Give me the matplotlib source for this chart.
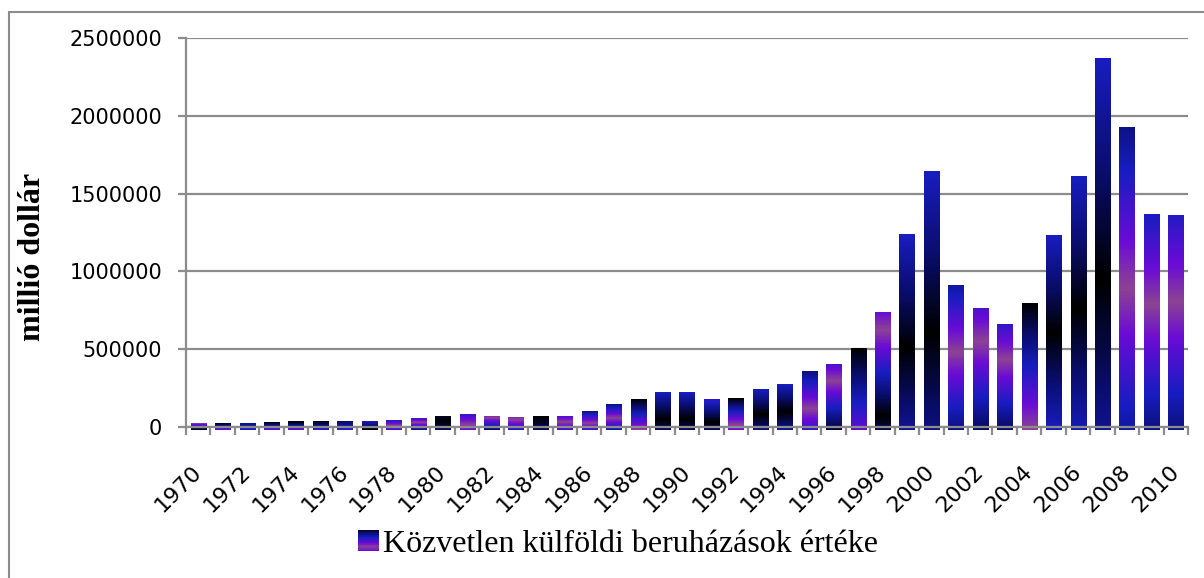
import numpy as np
import matplotlib
matplotlib.use("Agg")
import matplotlib.pyplot as plt
from matplotlib.colors import LinearSegmentedColormap
from matplotlib.patches import Rectangle
from matplotlib.legend_handler import HandlerBase

years = list(range(1970, 2011))
fdi = [24000, 24000, 24000, 30000, 37000, 37000, 37000, 37000, 43000, 56000,
       69000, 82000, 69000, 62000, 69000, 69000, 101000, 148000, 174000, 219000,
       225000, 180000, 186000, 244000, 276000, 354000, 405000, 502000, 739000, 1235000,
       1640000, 907000, 759000, 662000, 797000, 1228000, 1607000, 2366000, 1923000, 1363000,
       1357000]
series_name = "Közvetlen külföldi beruházások értéke"
y_label = "millió dollár"
y_ticks = [0, 500000, 1000000, 1500000, 2000000, 2500000]

# gradient phase of each bar, (top, bottom): 0 black, .25 blue, .5 mauve, .75 blue, 1 black
shade = [(0.5, 1.0), (0.0, 0.4), (0.15, 0.28), (0.0, 0.4), (0.95, 1.4),
         (0.0, 0.3), (0.1, 0.3), (0.75, 1.0), (0.25, 0.7), (0.3, 0.85),
         (0.95, 1.1), (0.3, 0.6), (0.45, 0.9), (0.45, 0.75), (1.0, 1.1),
         (0.35, 0.7), (0.15, 0.7), (0.15, 0.8), (0.0, 0.5), (0.75, 1.1),
         (0.75, 1.1), (0.7, 1.1), (0.0, 0.6), (0.75, 1.15), (0.75, 1.17),
         (0.15, 0.7), (0.35, 0.95), (0.0, 0.38), (0.4, 1.08), (0.75, 1.18),
         (0.75, 1.15), (0.2, 0.85), (0.35, 0.9), (0.3, 0.9), (0.0, 0.5),
         (0.75, 1.25), (0.75, 1.23), (0.75, 1.17), (0.16, 0.8), (0.25, 0.85),
         (0.27, 0.85)]

cyc = LinearSegmentedColormap.from_list("cyc", [
    (0.0, "#000000"), (0.125, "#0a0d70"), (0.25, "#181dc0"), (0.4, "#6a0bd6"),
    (0.5, "#8c4493"), (0.6, "#6a0bd6"), (0.75, "#181dc0"), (0.875, "#0a0d70"),
    (1.0, "#000000")])


def grad(top, bottom, n=150):
    ph = np.linspace(top, bottom, n) % 1.0
    return cyc(ph)[:, None, :3]


class GradHandler(HandlerBase):
    def create_artists(self, legend, orig_handle, xdescent, ydescent, width,
                       height, fontsize, trans):
        cols = grad(0.05, 0.6, 30)[:, 0, :]
        n = len(cols)
        arts = []
        for i, c in enumerate(cols):
            r = Rectangle((-xdescent, -ydescent + height * (n - 1 - i) / n),
                          width, height / n, facecolor=c, lw=0, transform=trans)
            arts.append(r)
        return arts


gray = "#8c8c8c"
fig = plt.figure(figsize=(12.04, 5.78), dpi=100)
ax = fig.add_axes([186 / 1204, 1 - 427 / 578, 1002 / 1204, 389 / 578])

x = np.arange(len(years))
bars = ax.bar(x, fdi, width=0.614, color="none", zorder=2)
below = 19000
for b, (t, bt) in zip(bars, shade):
    x0 = b.get_x()
    ax.imshow(grad(t, bt), extent=(x0, x0 + b.get_width(), -below, b.get_height()),
              aspect="auto", interpolation="nearest", zorder=2, clip_on=False)

ax.set_xlim(-0.5, 40.5)
ax.set_ylim(0, 2500000)

ax.yaxis.grid(True, color=gray, lw=1.6)
ax.set_axisbelow(True)
for s in ["top", "right"]:
    ax.spines[s].set_visible(False)
for s in ["left", "bottom"]:
    ax.spines[s].set_color(gray)
    ax.spines[s].set_linewidth(1.6)

ax.set_xticks(x[::2])
ax.set_xticklabels([str(y) for y in years[::2]])
ax.set_xticks(np.arange(-0.5, 41, 1), minor=True)
ax.tick_params(axis="x", which="major", length=0, pad=30, labelsize=16)
ax.tick_params(axis="x", which="minor", length=5.8, width=1.6, color=gray)
for lbl in ax.get_xticklabels():
    lbl.set_rotation(45)
    lbl.set_ha("right")
    lbl.set_va("center")
    lbl.set_rotation_mode("anchor")

ax.set_yticks(y_ticks)
ax.set_yticklabels([str(v) for v in y_ticks])
ax.tick_params(axis="y", length=5.8, width=1.6, color=gray, pad=11.5, labelsize=15)

fig.text(33 / 1204, 1 - 257 / 578, y_label, rotation=90, ha="center", va="center",
         fontsize=23, fontweight="bold", family="Liberation Serif")

handle = Rectangle((0, 0), 1, 1)
fig.legend([handle], [series_name], handler_map={handle: GradHandler()},
           loc="center", bbox_to_anchor=(618 / 1204, 1 - 544 / 578), frameon=False,
           prop={"family": "Liberation Serif", "size": 23}, handlelength=0.66,
           handleheight=0.66, handletextpad=0.15, borderpad=0)

fig.add_artist(Rectangle((9 / 1204, -0.05), 1.2, 1 - 12 / 578 + 0.05,
                         transform=fig.transFigure, fill=False, edgecolor=gray, lw=1.5))

fig.savefig("out.png", dpi=100)
